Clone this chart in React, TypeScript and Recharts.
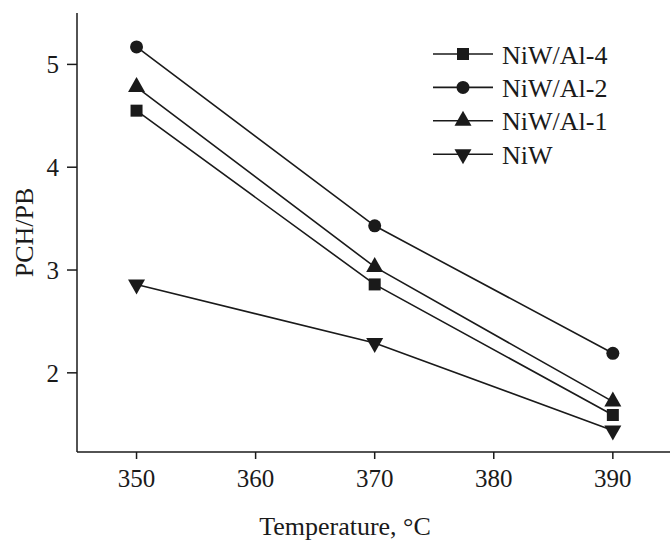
import React from 'react';
import { LineChart, Line, XAxis, YAxis, Legend } from 'recharts';

const temperatures = [350, 370, 390];
const niwAl4 = [4.55, 2.86, 1.59];
const niwAl2 = [5.17, 3.43, 2.19];
const niwAl1 = [4.78, 3.03, 1.72];
const niw = [2.86, 2.29, 1.44];
const xTicks = [350, 360, 370, 380, 390];
const yTicks = [2, 3, 4, 5];
const seriesNames = ['NiW/Al-4', 'NiW/Al-2', 'NiW/Al-1', 'NiW'];
const seriesKeys = ['a4', 'a2', 'a1', 'niw'];
const seriesShapes = ['square', 'circle', 'up', 'down'];

const data = temperatures.map((t, i) => ({
  t,
  a4: niwAl4[i],
  a2: niwAl2[i],
  a1: niwAl1[i],
  niw: niw[i],
}));

const INK = '#1a1a1a';
const FONT = 'Liberation Serif, Times New Roman, serif';

function Marker({ shape, cx, cy }: { shape: string; cx: number; cy: number }) {
  if (shape === 'square') return <rect x={cx - 6} y={cy - 6} width={12} height={12} fill={INK} />;
  if (shape === 'circle') return <circle cx={cx} cy={cy} r={6.5} fill={INK} />;
  if (shape === 'up')
    return <polygon points={`${cx},${cy - 10} ${cx - 8.5},${cy + 5} ${cx + 8.5},${cy + 5}`} fill={INK} />;
  return <polygon points={`${cx},${cy + 10} ${cx - 8.5},${cy - 5} ${cx + 8.5},${cy - 5}`} fill={INK} />;
}

const makeDot = (shape: string) => (props: any) => {
  const { cx, cy, index } = props;
  if (cx == null || cy == null) return <g key={`d-${shape}-${index}`} />;
  return (
    <g key={`d-${shape}-${index}`}>
      <Marker shape={shape} cx={cx} cy={cy} />
    </g>
  );
};

const renderLegend = () => (
  <svg width={240} height={140} style={{ display: 'block' }}>
    {seriesNames.map((name, i) => {
      const y = 19 + i * 33.4;
      return (
        <g key={name}>
          <line x1={3} x2={63} y1={y} y2={y} stroke={INK} strokeWidth={1.6} />
          <Marker shape={seriesShapes[i]} cx={33} cy={y} />
          <text x={72} y={y + 9.5} fontSize={26} fontFamily={FONT} fill={INK}>
            {name}
          </text>
        </g>
      );
    })}
  </svg>
);

const XTitle = (props: any) => {
  const vb = props.viewBox || { x: 77, y: 452 };
  return (
    <text x={vb.x + 268} y={vb.y + 83} textAnchor="middle" fontSize={26} fontFamily={FONT} fill={INK}>
      Temperature, °C
    </text>
  );
};

const YTitle = (props: any) => {
  const vb = props.viewBox || { x: 0, y: 13, height: 439 };
  const x = vb.x + 33;
  const y = vb.y + vb.height / 2;
  return (
    <text
      x={x}
      y={y}
      transform={`rotate(-90, ${x}, ${y})`}
      textAnchor="middle"
      fontSize={26}
      fontFamily={FONT}
      fill={INK}
    >
      PCH/PB
    </text>
  );
};

export default function App() {
  return (
    <div style={{ position: 'absolute', left: 0, top: 0, background: '#fff' }}>
      <LineChart width={670} height={542} data={data} margin={{ top: 13, right: 0, left: 0, bottom: 0 }}>
        <XAxis
          dataKey="t"
          type="number"
          domain={[345, 394.8]}
          allowDataOverflow
          ticks={xTicks}
          height={90}
          tickSize={7}
          tickMargin={10}
          axisLine={{ stroke: INK, strokeWidth: 1.5 }}
          tickLine={{ stroke: INK, strokeWidth: 1.5 }}
          tick={{ fill: INK, fontSize: 25, fontFamily: FONT }}
          label={XTitle}
        />
        <YAxis
          type="number"
          domain={[1.23, 5.5]}
          allowDataOverflow
          ticks={yTicks}
          width={77}
          tickSize={10}
          tickMargin={8}
          axisLine={{ stroke: INK, strokeWidth: 1.5 }}
          tickLine={{ stroke: INK, strokeWidth: 1.5 }}
          tick={{ fill: INK, fontSize: 25, fontFamily: FONT }}
          label={YTitle}
        />
        <Legend
          layout="horizontal"
          verticalAlign="middle"
          align="center"
          content={renderLegend}
          wrapperStyle={{ position: 'absolute', left: 430, top: 35, width: 240, height: 140 }}
        />
        {seriesKeys.map((k, i) => (
          <Line
            key={k}
            dataKey={k}
            name={seriesNames[i]}
            stroke={INK}
            strokeWidth={1.6}
            dot={makeDot(seriesShapes[i])}
            activeDot={false}
            isAnimationActive={false}
          />
        ))}
      </LineChart>
    </div>
  );
}
